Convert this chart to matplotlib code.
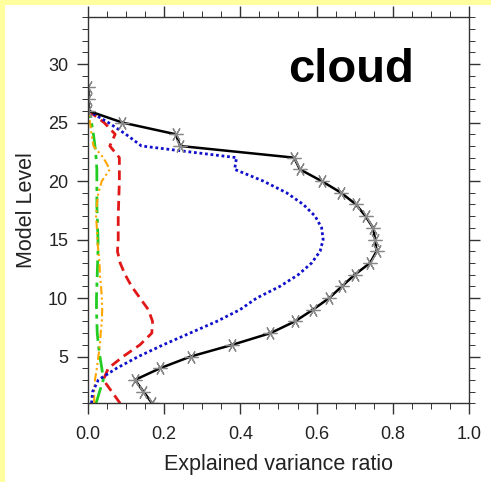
import matplotlib
matplotlib.use("Agg")
import matplotlib.pyplot as plt
from matplotlib.ticker import MultipleLocator
import numpy as np

plt.rcParams['font.family'] = ['Liberation Sans', 'DejaVu Sans']

levels_black = list(range(1, 29))
black = [0.169, 0.146, 0.124, 0.190, 0.270, 0.379, 0.479, 0.543, 0.590, 0.633,
         0.666, 0.700, 0.740, 0.757, 0.753, 0.748, 0.728, 0.703, 0.664, 0.613,
         0.556, 0.541, 0.242, 0.231, 0.091, 0.002, 0.002, 0.002]

levels = list(range(1, 27))
blue = [0.010, 0.013, 0.028, 0.076, 0.133, 0.198, 0.268, 0.338, 0.399, 0.443,
        0.504, 0.552, 0.587, 0.609, 0.617, 0.613, 0.596, 0.565, 0.521, 0.460,
        0.385, 0.390, 0.141, 0.100, 0.054, 0.002]
red = [0.085, 0.063, 0.041, 0.054, 0.093, 0.137, 0.168, 0.170, 0.159, 0.137,
       0.115, 0.098, 0.085, 0.078, 0.080, 0.080, 0.080, 0.081, 0.082, 0.083,
       0.083, 0.083, 0.058, 0.072, 0.043, 0.002]
orange = [0.017, 0.017, 0.019, 0.024, 0.028, 0.032, 0.034, 0.037, 0.038, 0.037,
          0.035, 0.032, 0.031, 0.028, 0.025, 0.024, 0.022, 0.024, 0.028, 0.037,
          0.058, 0.041, 0.015, 0.010, 0.006, 0.002]
green = [0.022, 0.031, 0.041, 0.037, 0.032, 0.028, 0.025, 0.024, 0.023, 0.023,
         0.024, 0.025, 0.026, 0.027, 0.027, 0.026, 0.025, 0.024, 0.024, 0.024,
         0.024, 0.022, 0.019, 0.015, 0.010, 0.002]

fig = plt.figure(figsize=(4.91, 4.82), dpi=100)
fig.patch.set_facecolor('#FFFF9E')
# white panel
fig.patches.append(plt.Rectangle((5/491, 0), 1, 1 - 5/482, transform=fig.transFigure,
                                 facecolor='white', edgecolor='none', zorder=-10))

ax = fig.add_axes([0.1786, 0.1633, 0.9558 - 0.1786, 0.9641 - 0.1633])
ax.set_zorder(5)
ax.set_facecolor('white')

ax.plot(green, levels, color='#22CC22', lw=2.0, linestyle=(0, (6, 2, 1.5, 2)))
ax.plot(orange, levels, color='#FFA500', lw=1.5, linestyle=(0, (4, 1.5, 1, 1.5, 1, 1.5)))
ax.plot(red, levels, color='#E01818', lw=2.0, linestyle=(0, (3.5, 2)))
ax.plot(blue, levels, color='#1010CC', lw=2.0, linestyle=(0, (1, 1)))
ax.plot(black, levels_black, color='black', lw=1.8, marker=(6, 2, 90),
        markersize=10, markeredgecolor='#888888', markeredgewidth=0.9)

ax.set_xlim(0, 1.0)
ax.set_ylim(1, 34)
ax.xaxis.set_major_locator(MultipleLocator(0.2))
ax.xaxis.set_minor_locator(MultipleLocator(0.05))
ax.yaxis.set_major_locator(MultipleLocator(5))
ax.yaxis.set_minor_locator(MultipleLocator(1))
ax.set_xticks([0, 0.2, 0.4, 0.6, 0.8, 1.0])
ax.set_xticklabels(['0.0', '0.2', '0.4', '0.6', '0.8', '1.0'])
ax.set_yticks([5, 10, 15, 20, 25, 30])

ax.tick_params(which='both', direction='out', top=True, right=True, colors='#333333',
               labelcolor='#222222')
ax.tick_params(which='major', length=8, width=1.0, labelsize=13)
ax.tick_params(axis='x', which='major', pad=8)
ax.tick_params(axis='y', which='major', pad=6)
ax.tick_params(which='minor', length=4, width=0.7)
for s in ax.spines.values():
    s.set_color('#333333')
    s.set_linewidth(1.0)

ax.set_xlabel('Explained variance ratio', fontsize=15.5, color='#222222', labelpad=8)
ax.set_ylabel('Model Level', fontsize=15.5, color='#222222', labelpad=8)

ax.text(0.525, 0.833, 'cloud', transform=ax.transAxes, fontsize=34,
        fontweight='bold', ha='left', va='baseline', color='black')

fig.savefig('out.png', dpi=100, facecolor=fig.get_facecolor())
